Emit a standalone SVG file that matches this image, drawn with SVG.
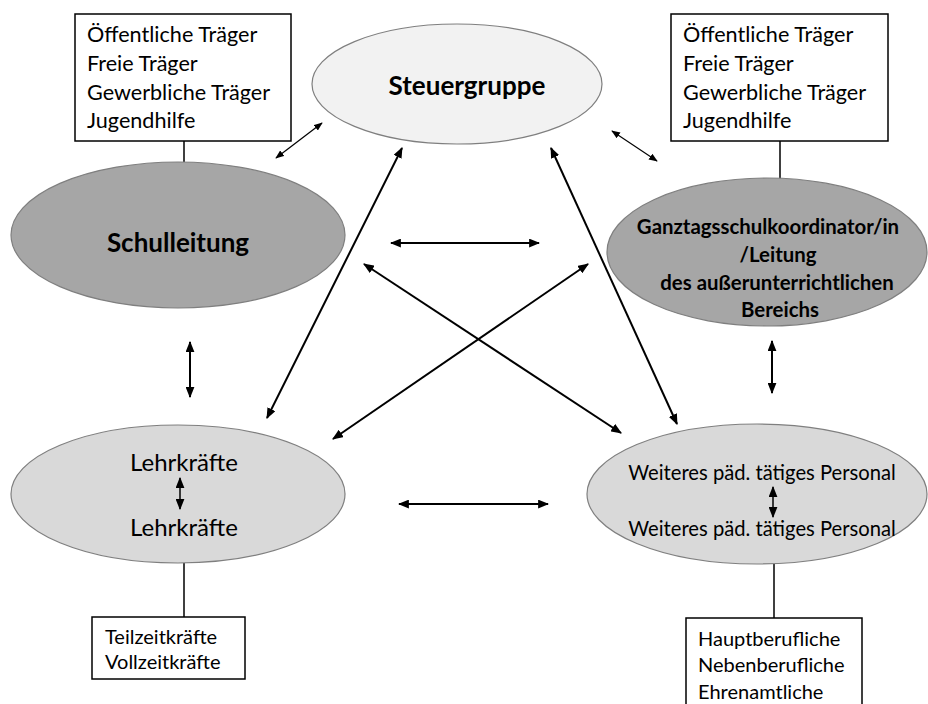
<svg xmlns="http://www.w3.org/2000/svg" width="928" height="704" viewBox="0 0 928 704">
<style>
.box{fill:#fff;stroke:#000;stroke-width:1.5}
.t{font-family:Lato,"Liberation Sans",sans-serif;fill:#000}
.b{font-family:Lato,"Liberation Sans",sans-serif;font-weight:bold;fill:#000}
.ln{stroke:#000;stroke-width:1.5;fill:none}
.ar{stroke:#000;stroke-width:2;fill:none;marker-start:url(#ah);marker-end:url(#ah)}
.ar1{stroke:#000;stroke-width:1.2;fill:none;marker-start:url(#ahs);marker-end:url(#ahs)}
.el{stroke:#7f7f7f;stroke-width:1.2}
</style>
<defs>
<marker id="ah" viewBox="0 0 10 8" refX="9" refY="4" markerWidth="11" markerHeight="9" markerUnits="userSpaceOnUse" orient="auto-start-reverse">
<path d="M0,0 L10,4 L0,8 Z" fill="#000"/>
</marker>
<marker id="ahs" viewBox="0 0 10 8" refX="9" refY="4" markerWidth="9" markerHeight="7" markerUnits="userSpaceOnUse" orient="auto-start-reverse">
<path d="M0,0 L10,4 L0,8 Z" fill="#000"/>
</marker>
</defs>
<rect width="928" height="704" fill="#fff"/>

<g id="connectors">
<line class="ln" x1="184" y1="141" x2="184" y2="162"/>
<line class="ln" x1="780" y1="141" x2="780" y2="179"/>
<line class="ln" x1="184" y1="563" x2="184" y2="617"/>
<line class="ln" x1="774" y1="564" x2="774" y2="618"/>
<line class="ar1" x1="276" y1="158" x2="322" y2="123"/>
<line class="ar1" x1="612" y1="131" x2="657" y2="161"/>
<line class="ar" x1="402" y1="148" x2="267" y2="418"/>
<line class="ar" x1="551" y1="148" x2="677" y2="424"/>
<line class="ar" x1="391" y1="243" x2="539" y2="243"/>
<line class="ar" x1="364" y1="264" x2="621" y2="433"/>
<line class="ar" x1="588" y1="264" x2="333" y2="439"/>
<line class="ar" x1="190" y1="342" x2="190" y2="397"/>
<line class="ar" x1="772" y1="341" x2="772" y2="393"/>
<line class="ar" x1="399" y1="504" x2="548" y2="504"/>
</g>

<g id="box-top-left">
<rect class="box" x="75" y="14" width="216" height="127"/>
<text class="t" font-size="21.6" x="87" y="42">Öffentliche Träger</text>
<text class="t" font-size="21.6" x="87" y="71">Freie Träger</text>
<text class="t" font-size="21.6" x="87" y="100">Gewerbliche Träger</text>
<text class="t" font-size="21.6" x="87" y="128">Jugendhilfe</text>
</g>

<g id="box-top-right">
<rect class="box" x="671" y="14" width="217" height="127"/>
<text class="t" font-size="21.6" x="683" y="42">Öffentliche Träger</text>
<text class="t" font-size="21.6" x="683" y="71">Freie Träger</text>
<text class="t" font-size="21.6" x="683" y="100">Gewerbliche Träger</text>
<text class="t" font-size="21.6" x="683" y="128">Jugendhilfe</text>
</g>

<g id="steuergruppe">
<ellipse class="el" cx="457" cy="84" rx="145" ry="60" fill="#f2f2f2"/>
<text class="b" font-size="26" x="467" y="95" text-anchor="middle">Steuergruppe</text>
</g>

<g id="schulleitung">
<ellipse class="el" cx="178" cy="235" rx="167" ry="73" fill="#a6a6a6"/>
<text class="b" font-size="26" x="178" y="252" text-anchor="middle">Schulleitung</text>
</g>

<g id="ganztag">
<ellipse class="el" cx="767" cy="252" rx="160" ry="74" fill="#a6a6a6"/>
<text class="b" font-size="20.4" x="768" y="234" text-anchor="middle">Ganztagsschulkoordinator/in</text>
<text class="b" font-size="20.4" x="778" y="262" text-anchor="middle">/Leitung</text>
<text class="b" font-size="20.4" x="777" y="290" text-anchor="middle">des außerunterrichtlichen</text>
<text class="b" font-size="20.4" x="780" y="317" text-anchor="middle">Bereichs</text>
</g>

<g id="lehrkraefte">
<ellipse class="el" cx="178" cy="494" rx="167" ry="69" fill="#d9d9d9"/>
<text class="t" font-size="24" x="184" y="471" text-anchor="middle">Lehrkräfte</text>
<text class="t" font-size="24" x="184" y="536" text-anchor="middle">Lehrkräfte</text>
<line class="ar" x1="180" y1="478" x2="180" y2="509" style="stroke-width:1.5"/>
</g>

<g id="weiteres">
<ellipse class="el" cx="757" cy="494" rx="170" ry="70" fill="#d9d9d9"/>
<text class="t" font-size="20.2" x="762" y="480" text-anchor="middle">Weiteres päd. tätiges Personal</text>
<text class="t" font-size="20.2" x="762" y="536" text-anchor="middle">Weiteres päd. tätiges Personal</text>
<line class="ar" x1="773" y1="487" x2="773" y2="517" style="stroke-width:1.5"/>
</g>

<g id="box-bottom-left">
<rect class="box" x="92" y="617" width="153" height="62"/>
<text class="t" font-size="20" x="105" y="644">Teilzeitkräfte</text>
<text class="t" font-size="20" x="105" y="669">Vollzeitkräfte</text>
</g>

<g id="box-bottom-right">
<rect class="box" x="686" y="618" width="176" height="100"/>
<text class="t" font-size="20" x="698" y="646">Hauptberufliche</text>
<text class="t" font-size="20" x="698" y="672">Nebenberufliche</text>
<text class="t" font-size="20" x="698" y="699">Ehrenamtliche</text>
</g>
</svg>
